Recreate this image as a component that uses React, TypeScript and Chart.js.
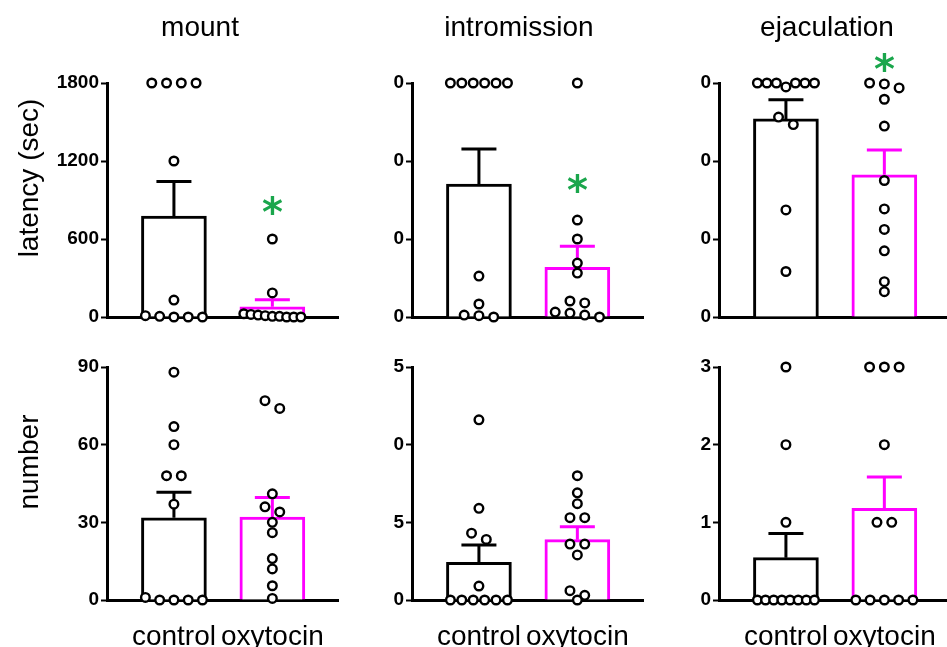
import React, { useEffect, useRef } from 'react';
import { Chart, registerables } from 'chart.js';

Chart.register(...registerables);

// ---------- data ----------
const groups = ['control', 'oxytocin'];
const columnTitles = ['mount', 'intromission', 'ejaculation'];
const rowTitles = ['latency (sec)', 'number'];

// latency (sec), one value per animal
const mountLatencyControl = [1800, 1800, 1800, 1800, 1200, 130, 10, 5, 0, 0, 0];
const mountLatencyOxytocin = [600, 185, 25, 20, 15, 10, 5, 5, 0, 0, 0];
const intromissionLatencyControl = [1800, 1800, 1800, 1800, 1800, 1800, 315, 100, 15, 10, 0];
const intromissionLatencyOxytocin = [1800, 746, 600, 415, 338, 123, 108, 38, 30, 15, 0];
const ejaculationLatencyControl = [1800, 1800, 1800, 1770, 1800, 1800, 1800, 1538, 1480, 824, 350];
const ejaculationLatencyOxytocin = [1800, 1793, 1762, 1675, 1469, 1050, 831, 674, 509, 272, 195];

// number, one value per animal
const mountNumberControl = [88, 67, 60, 48, 48, 37, 1, 0, 0, 0, 0];
const mountNumberOxytocin = [77, 74, 41, 36, 34, 30, 26, 16, 12, 5.5, 0.6];
const intromissionNumberControl = [11.6, 5.9, 4.3, 3.9, 0.9, 0, 0, 0, 0, 0, 0];
const intromissionNumberOxytocin = [8, 6.9, 6.2, 5.3, 5.3, 3.6, 3.6, 2.9, 0.6, 0.3, 0];
const ejaculationNumberControl = [3, 2, 1, 0, 0, 0, 0, 0, 0, 0, 0];
const ejaculationNumberOxytocin = [3, 3, 3, 2, 1, 1, 0, 0, 0, 0, 0];

// y ticks (values) and the labels as they appear in the (cropped) figure
const latencyTicks = [0, 600, 1200, 1800];
const mountLatencyTickLabels = ['0', '600', '1200', '1800'];
const croppedLatencyTickLabels = ['0', '0', '0', '0'];
const mountNumberTicks = [0, 30, 60, 90];
const mountNumberTickLabels = ['0', '30', '60', '90'];
const intromissionNumberTicks = [0, 5, 10, 15];
const intromissionNumberTickLabels = ['0', '5', '0', '5'];
const ejaculationNumberTicks = [0, 1, 2, 3];
const ejaculationNumberTickLabels = ['0', '1', '2', '3'];

// significance asterisk above the oxytocin group (value on y axis), per column
const latencySignificanceAt = [860, 1030, 1960];
const numberSignificanceAt = [null, null, null];
const significanceText = '*';

// ---------- style / layout ----------
const FONT = '"Liberation Sans", Arial, sans-serif';
const MAGENTA = '#ff00ff';
const SIG_COLOR = '#1aa64c';
const X_MIN = 0.32;
const X_PX = 100; // px per group step
const AREA_W = 235;
const COL_AXIS_X = [107, 412, 719];
const COL_CANVAS_LEFT = [0, 388, 695];
const COL_TITLE_X = [200, 519, 827];
const ROW_TITLE_Y = [178, 462];
const ROWS = [
  { canvasTop: 40, chartTop: 83, chartBottom: 317, canvasBottom: 340, showX: false },
  { canvasTop: 340, chartTop: 367, chartBottom: 600, canvasBottom: 647, showX: true },
];
const SWARM_SPACING = 15;
const SWARM_MAX_SPREAD = 58;
const SWARM_ROW_GAP = 9;

function mean(a: number[]) {
  return a.reduce((s, v) => s + v, 0) / a.length;
}
function sem(a: number[]) {
  const m = mean(a);
  const v = a.reduce((s, x) => s + (x - m) * (x - m), 0) / (a.length - 1);
  return Math.sqrt(v) / Math.sqrt(a.length);
}

// column-scatter layout: values that overlap vertically are spread side by side (in input order)
function swarmOffsets(values: number[], yMax: number, plotH: number): number[] {
  const pxPerUnit = plotH / yMax;
  const order = values.map((_, i) => i).sort((a, b) => values[b] - values[a] || a - b);
  const rows: number[][] = [];
  for (const i of order) {
    const row = rows[rows.length - 1];
    if (row && (values[row[0]] - values[i]) * pxPerUnit < SWARM_ROW_GAP) row.push(i);
    else rows.push([i]);
  }
  const off = new Array(values.length).fill(0);
  for (const row of rows) {
    row.sort((a, b) => a - b);
    const n = row.length;
    const sp = n > 1 ? Math.min(SWARM_SPACING, SWARM_MAX_SPREAD / (n - 1)) : 0;
    row.forEach((idx, k) => {
      off[idx] = (k - (n - 1) / 2) * sp;
    });
  }
  return off;
}

const errorBarPlugin = {
  id: 'semBars',
  afterDatasetDraw(chart: any, args: any) {
    const ds = chart.data.datasets[args.index];
    if (!ds.sem) return;
    const ctx = chart.ctx;
    const y = chart.scales.y;
    args.meta.data.forEach((bar: any, i: number) => {
      const top = y.getPixelForValue(ds.data[i].y + ds.sem[i]);
      ctx.save();
      ctx.strokeStyle = ds.borderColor[i];
      ctx.lineWidth = 3;
      ctx.beginPath();
      ctx.moveTo(bar.x, bar.y);
      ctx.lineTo(bar.x, top);
      ctx.moveTo(bar.x - 17.5, top);
      ctx.lineTo(bar.x + 17.5, top);
      ctx.stroke();
      ctx.restore();
    });
  },
};

type Spec = {
  row: number;
  col: number;
  control: number[];
  oxytocin: number[];
  ticks: number[];
  tickLabels: string[];
  sig: number | null;
};

const panels: Spec[] = [
  { row: 0, col: 0, control: mountLatencyControl, oxytocin: mountLatencyOxytocin, ticks: latencyTicks, tickLabels: mountLatencyTickLabels, sig: latencySignificanceAt[0] },
  { row: 0, col: 1, control: intromissionLatencyControl, oxytocin: intromissionLatencyOxytocin, ticks: latencyTicks, tickLabels: croppedLatencyTickLabels, sig: latencySignificanceAt[1] },
  { row: 0, col: 2, control: ejaculationLatencyControl, oxytocin: ejaculationLatencyOxytocin, ticks: latencyTicks, tickLabels: croppedLatencyTickLabels, sig: latencySignificanceAt[2] },
  { row: 1, col: 0, control: mountNumberControl, oxytocin: mountNumberOxytocin, ticks: mountNumberTicks, tickLabels: mountNumberTickLabels, sig: numberSignificanceAt[0] },
  { row: 1, col: 1, control: intromissionNumberControl, oxytocin: intromissionNumberOxytocin, ticks: intromissionNumberTicks, tickLabels: intromissionNumberTickLabels, sig: numberSignificanceAt[1] },
  { row: 1, col: 2, control: ejaculationNumberControl, oxytocin: ejaculationNumberOxytocin, ticks: ejaculationNumberTicks, tickLabels: ejaculationNumberTickLabels, sig: numberSignificanceAt[2] },
];

function Panel({ spec }: { spec: Spec }) {
  const ref = useRef<HTMLCanvasElement | null>(null);
  const r = ROWS[spec.row];
  const left = COL_CANVAS_LEFT[spec.col];
  const yAxisW = COL_AXIS_X[spec.col] - left;
  const width = yAxisW + AREA_W + 3;
  const height = r.canvasBottom - r.canvasTop;

  useEffect(() => {
    if (!ref.current) return;
    const yMax = spec.ticks[spec.ticks.length - 1];
    const plotH = r.chartBottom - r.chartTop;
    const sets = [spec.control, spec.oxytocin];
    const pointSets = sets.map((vals, g) => {
      const off = swarmOffsets(vals, yMax, plotH);
      return vals.map((v, i) => ({ x: g + 1 + off[i] / X_PX, y: v }));
    });
    const sigPlugin = {
      id: 'sigMark',
      afterDatasetsDraw(chart: any) {
        if (spec.sig == null) return;
        const ctx = chart.ctx;
        const px = chart.scales.x.getPixelForValue(2);
        const py = chart.scales.y.getPixelForValue(spec.sig);
        ctx.save();
        ctx.font = 'bold 40px "DejaVu Sans"';
        ctx.fillStyle = SIG_COLOR;
        ctx.textAlign = 'center';
        ctx.textBaseline = 'alphabetic';
        const m = ctx.measureText(significanceText);
        ctx.fillText(significanceText, px, py + (m.actualBoundingBoxAscent - m.actualBoundingBoxDescent) / 2);
        ctx.restore();
      },
    };
    const chart = new Chart(ref.current, {
      type: 'bar',
      data: {
        datasets: [
          {
            type: 'bar',
            data: sets.map((vals, g) => ({ x: g + 1, y: mean(vals) })),
            sem: sets.map((vals) => sem(vals)),
            backgroundColor: '#ffffff',
            borderColor: ['#000000', MAGENTA],
            borderWidth: 3,
            borderSkipped: 'start',
            barThickness: 65,
            order: 2,
          } as any,
          ...pointSets.map((pts) => ({
            type: 'scatter',
            data: pts,
            pointRadius: 4.3,
            pointBorderWidth: 2.4,
            pointBackgroundColor: '#ffffff',
            pointBorderColor: '#000000',
            clip: false,
            order: 1,
          } as any)),
        ],
      },
      options: {
        responsive: false,
        animation: false,
        events: [],
        layout: { padding: { top: r.chartTop - r.canvasTop, right: 3, left: 0, bottom: 0 } },
        plugins: { legend: { display: false }, tooltip: { enabled: false }, title: { display: false } },
        scales: {
          x: {
            type: 'linear',
            offset: false,
            min: X_MIN,
            max: X_MIN + AREA_W / X_PX,
            grid: { display: false },
            border: { display: true, color: '#000000', width: 3 },
            ticks: {
              display: r.showX,
              autoSkip: false,
              maxRotation: 0,
              padding: 12,
              color: '#000000',
              font: { family: FONT, size: 28 },
              callback: (v: any) => groups[Math.round(v) - 1] ?? '',
            },
            afterBuildTicks: (s: any) => {
              s.ticks = [{ value: 1 }, { value: 2 }];
            },
            afterFit: (s: any) => {
              s.height = r.canvasBottom - r.chartBottom;
              s.paddingLeft = 0;
              s.paddingRight = 0;
            },
          },
          y: {
            type: 'linear',
            min: 0,
            max: yMax,
            grid: { display: true, drawOnChartArea: false, drawTicks: true, tickLength: 6, tickWidth: 2, tickColor: '#000000', color: '#000000' },
            border: { display: true, color: '#000000', width: 3 },
            ticks: {
              padding: 2,
              color: '#000000',
              font: { family: FONT, size: 19, weight: 'bold' },
              callback: (_v: any, i: number) => spec.tickLabels[i],
            },
            afterBuildTicks: (s: any) => {
              s.ticks = spec.ticks.map((v) => ({ value: v }));
            },
            afterFit: (s: any) => {
              s.width = yAxisW;
              s.paddingTop = 0;
              s.paddingBottom = 0;
            },
          },
        },
      } as any,
      plugins: [errorBarPlugin, sigPlugin],
    });
    return () => chart.destroy();
  }, []);

  return (
    <canvas
      ref={ref}
      width={width}
      height={height}
      style={{ position: 'absolute', left, top: r.canvasTop, width, height }}
    />
  );
}

export default function App() {
  useEffect(() => {
    document.body.style.margin = '0';
  }, []);
  const textStyle: React.CSSProperties = {
    position: 'absolute',
    fontFamily: FONT,
    fontSize: 28,
    lineHeight: '28px',
    whiteSpace: 'nowrap',
    color: '#000',
  };
  return (
    <div style={{ position: 'fixed', left: 0, top: 0, width: 947, height: 647, overflow: 'hidden', background: '#fff' }}>
      {panels.map((p, i) => (
        <Panel key={i} spec={p} />
      ))}
      {columnTitles.map((t, i) => (
        <div key={t} style={{ ...textStyle, left: COL_TITLE_X[i], top: 13, transform: 'translateX(-50%)' }}>
          {t}
        </div>
      ))}
      {rowTitles.map((t, i) => (
        <div key={t} style={{ ...textStyle, left: 29, top: ROW_TITLE_Y[i], transform: 'translate(-50%, -50%) rotate(-90deg)' }}>
          {t}
        </div>
      ))}
    </div>
  );
}
